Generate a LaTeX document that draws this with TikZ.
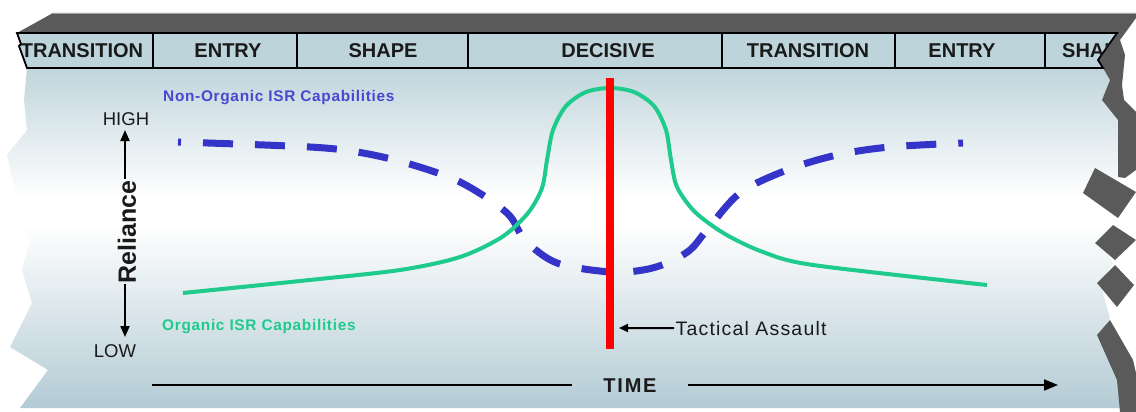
\documentclass[tikz,border=0pt]{standalone}
\usepackage{fontspec}
\setmainfont{Liberation Sans}
\newfontfamily\lsA[LetterSpace=4.5]{Liberation Sans}
\newfontfamily\lsB[LetterSpace=6]{Liberation Sans}
\newfontfamily\lsC[LetterSpace=9]{Liberation Sans}
\usetikzlibrary{arrows.meta}
\definecolor{ptop}{HTML}{C0D5DC}
\definecolor{pbot}{HTML}{B3CBD4}
\definecolor{hdr}{HTML}{BDD4DB}
\definecolor{band}{HTML}{5A5A5A}
\definecolor{nblue}{HTML}{3434C8}
\definecolor{lblue}{HTML}{4848D0}
\definecolor{ogreen}{HTML}{1FCB8C}
\definecolor{ink}{HTML}{1A1A1A}
\pgfdeclareverticalshading{panelshade}{100bp}{color(0bp)=(pbot); color(25bp)=(pbot); color(52bp)=(white); color(56bp)=(white); color(75bp)=(ptop); color(100bp)=(ptop)}
\tikzset{
  hdrtext/.style={font=\bfseries\fontsize{20}{24}\selectfont, text=ink, inner sep=0pt},
  axlabel/.style={font=\fontsize{18.5}{22}\selectfont, text=ink, inner sep=0pt},
  arrowline/.style={draw=black, line width=2pt, -{Triangle[length=11pt,width=9pt]}},
  divider/.style={draw=black, line width=1.8pt},
}
\begin{document}
\begin{tikzpicture}[x=1pt,y=-1pt]
\useasboundingbox (0,0) rectangle (1136,412);
\fill[white] (0,0) rectangle (1136,412);

% light panel with torn edges
\path[shading=panelshade] (27,68) -- (24,100) -- (27,130) -- (7,155) -- (15,190) -- (10,210)
  -- (30,240) -- (22,270) -- (32,303) -- (10,347) -- (48,370) -- (20,408)
  -- (1122,408) -- (1120,380) -- (1100,335) -- (1110,318) -- (1100,283) -- (1113,263)
  -- (1100,243) -- (1113,222) -- (1100,190) -- (1118,177) -- (1118,120) -- (1102,100)
  -- (1110,80) -- (1103,68) -- cycle;

% dark top band and torn right strip
\fill[band] (17,33) -- (53,13) -- (1136,13) -- (1136,18) -- (1120,40) -- (1125,55)
  -- (1122,85) -- (1124,100) -- (1136,112) -- (1136,170) -- (1125,178) -- (1118,177)
  -- (1118,120) -- (1102,100) -- (1110,80) -- (1103,68) -- (1098,60) -- (1117,33) -- cycle;
\draw[gray!70, line width=1pt] (53,13.5) -- (1136,13.5);
\fill[band] (1095,168) -- (1136,192) -- (1118,218) -- (1083,193) -- cycle;
\fill[band] (1113,225) -- (1136,240) -- (1115,260) -- (1095,243) -- cycle;
\fill[band] (1115,265) -- (1134,285) -- (1117,307) -- (1097,283) -- cycle;
\fill[band] (1110,320) -- (1133,360) -- (1136,373) -- (1136,412) -- (1120,412)
  -- (1117,380) -- (1097,335) -- cycle;

% header row
\filldraw[fill=hdr, draw=black, line width=1.8pt] (17,33) -- (1117,33) -- (1098,60) -- (1103,68)
  -- (27,68) -- (19,46) -- (21,44) -- cycle;
\foreach \xx in {153,297,468,722,895,1045} \draw[divider] (\xx,33) -- (\xx,68);
\begin{scope}
  \clip (17,33) -- (1117,33) -- (1098,60) -- (1103,68) -- (27,68) -- (19,46) -- (21,44) -- cycle;
  \node[hdrtext, anchor=base] (h1) at (82,58) {TRANSITION};
  \node[hdrtext, anchor=base] (h2) at (228,58) {ENTRY};
  \node[hdrtext, anchor=base] (h3) at (383,58) {SHAPE};
  \node[hdrtext, anchor=base] (h4) at (608,58) {DECISIVE};
  \node[hdrtext, anchor=base] (h5) at (808,58) {TRANSITION};
  \node[hdrtext, anchor=base] (h6) at (962,58) {ENTRY};
  \node[hdrtext, anchor=base west] (h7) at (1062,58) {SHAPE};
\end{scope}

% labels
\node[font=\lsA\bfseries\fontsize{15.4}{18}\selectfont, text=lblue, anchor=base west, inner sep=0pt]
  (nonorg) at (163,102) {Non-Organic ISR Capabilities};
\node[font=\lsA\bfseries\fontsize{15.4}{18}\selectfont, text=ogreen, anchor=base west, inner sep=0pt]
  (org) at (162,330) {Organic ISR Capabilities};

% Reliance axis
\node[axlabel, anchor=base] (high) at (126,125) {HIGH};
\node[axlabel, anchor=base] (low) at (115,357) {LOW};
\node[font=\bfseries\fontsize{25}{30}\selectfont, text=ink, rotate=90, inner sep=1pt] (rel) at (127,232) {Reliance};
\coordinate (uptip) at (125,130);
\coordinate (upbase) at (125,179);
\coordinate (dntip) at (125,337);
\coordinate (dnbase) at (125,284);
\draw[arrowline] (upbase) -- (uptip);
\draw[arrowline] (dnbase) -- (dntip);

% curves
\draw[nblue, line width=7pt, dash pattern=on 30pt off 22pt, dash phase=27pt]
  plot[smooth, tension=0.55] coordinates {(178,142) (310,147) (363,153) (413,165) (462,183)
  (507,213) (525,240) (557,263) (610,272) (643,270) (667,263) (690,250) (707,230)
  (740,193) (787,170) (837,155) (890,147) (963,143)};
\draw[ogreen, line width=4pt]
  plot[smooth, tension=0.5] coordinates {(183,293) (300,281) (400,270) (460,257) (502,237)
  (528,213) (542,188) (547,160) (553,130) (566,106) (586,92) (610,88) (634,92) (654,106)
  (666,130) (671,160) (677,187) (695,212) (725,234) (763,252) (813,265) (987,285)};

% tactical assault
\coordinate (rtop) at (610,78);
\coordinate (rbot) at (610,349);
\draw[red, line width=7.5pt] (rtop) -- (rbot);
\node[font=\lsB\fontsize{19.5}{23}\selectfont, text=ink, anchor=base west, inner sep=1.5pt]
  (tac) at (674,335) {Tactical Assault};
\coordinate (tactip) at (619,328);
\draw[arrowline, -{Triangle[length=9pt,width=8pt]}] (tac.west) -- (tactip);

% time axis
\node[font=\lsC\bfseries\fontsize{20}{24}\selectfont, text=ink, inner ysep=2pt, inner xsep=31pt] (time) at (630,386) {TIME};
\coordinate (tstart) at (152,385);
\coordinate (tend) at (1058,385);
\draw[black, line width=2pt] (tstart) -- (time.west |- tstart);
\draw[arrowline, -{Triangle[length=14pt,width=11pt]}] (time.east |- tstart) -- (tend);
\end{tikzpicture}
\end{document}
